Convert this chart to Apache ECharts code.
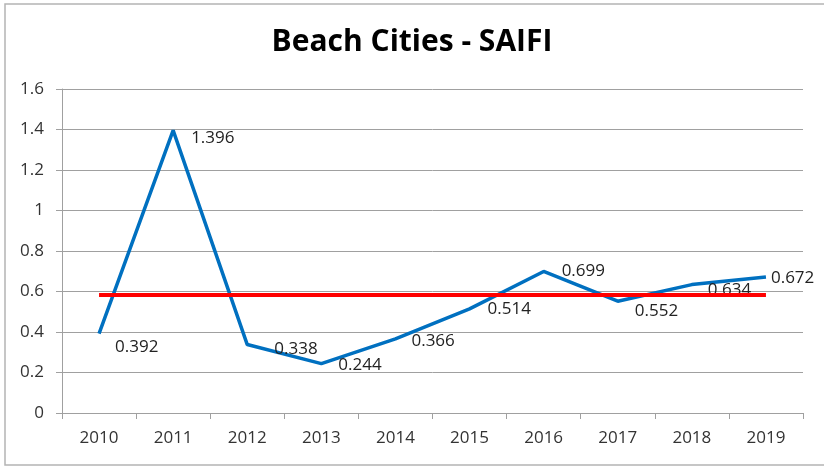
<!DOCTYPE html>
<html>
<head>
<meta charset="utf-8">
<script src="https://cdn.jsdelivr.net/npm/echarts@6/dist/echarts.min.js"></script>
<style>
  html, body { margin: 0; padding: 0; background: #fff; }
  #chart { width: 824px; height: 467px; }
</style>
</head>
<body>
<div id="chart"></div>
<script>
// data
const years = ["2010", "2011", "2012", "2013", "2014", "2015", "2016", "2017", "2018", "2019"];
const saifi = [0.392, 1.396, 0.338, 0.244, 0.366, 0.514, 0.699, 0.552, 0.634, 0.672];
const average = [0.583, 0.583, 0.583, 0.583, 0.583, 0.583, 0.583, 0.583, 0.583, 0.583];

// label nudges so the numbers sit like the excel ones
const labelShift = [[16, 14], [18, 8], [27, 5], [17, 2], [16, 2], [18, 0], [18, 0], [17, 10], [16, 6], [5, 1]];

const font = "'Open Sans', 'Noto Sans', sans-serif";
const chart = echarts.init(document.getElementById("chart"));

chart.setOption({
  animation: false,
  backgroundColor: "#fff",
  title: {
    text: "Beach Cities - SAIFI",
    left: "center",
    top: 22,
    textStyle: { fontFamily: font, fontWeight: "bold", fontSize: 30, color: "#000" }
  },
  graphic: [{
    type: "rect",
    shape: { x: 5, y: 4, width: 830, height: 461 },
    style: { fill: null, stroke: "#b4b4b4", lineWidth: 1.5 },
    silent: true
  }],
  grid: { left: 62, right: 21, top: 89, bottom: 54 },
  xAxis: {
    type: "category",
    data: years,
    boundaryGap: true,
    axisLine: { lineStyle: { color: "#a0a0a0", width: 1 } },
    axisTick: { show: true, length: 6, lineStyle: { color: "#a0a0a0" } },
    axisLabel: { margin: 17, fontFamily: font, fontSize: 17, color: "#333" },
    splitLine: { show: false }
  },
  yAxis: {
    type: "value",
    min: 0,
    max: 1.6,
    interval: 0.2,
    axisLine: { show: true, lineStyle: { color: "#a0a0a0", width: 1 } },
    axisTick: { show: true, length: 6, lineStyle: { color: "#a0a0a0" } },
    axisLabel: {
      margin: 18, fontFamily: font, fontSize: 17, color: "#333",
      formatter: (v) => String(Math.round(v * 10) / 10)
    },
    splitLine: { lineStyle: { color: "#a0a0a0", width: 1 } }
  },
  series: [
    {
      type: "line",
      z: 2,
      data: saifi.map((v, i) => ({
        value: v,
        label: { offset: labelShift[i] }
      })),
      showSymbol: true,
      symbol: "circle",
      symbolSize: 0,
      lineStyle: { color: "#0070c0", width: 3.5 },
      itemStyle: { color: "#0070c0" },
      label: {
        show: true,
        position: "right",
        distance: 0,
        fontFamily: font,
        fontSize: 17,
        color: "#222"
      }
    },
    {
      type: "line",
      z: 3,
      data: average,
      symbol: "none",
      lineStyle: { color: "#ff0000", width: 4 },
      itemStyle: { color: "#ff0000" }
    }
  ]
});
</script>
</body>
</html>
